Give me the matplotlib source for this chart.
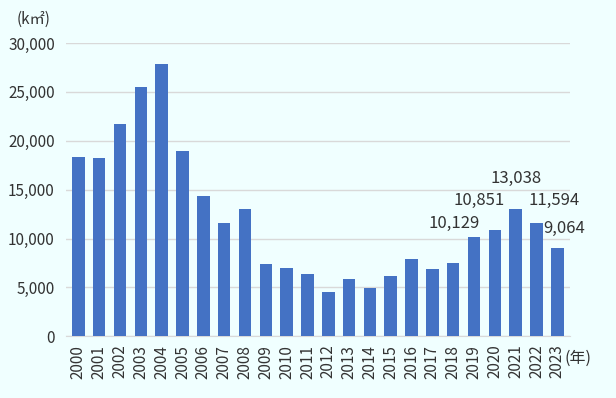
import matplotlib

matplotlib.use("Agg")
import matplotlib.pyplot as plt
import matplotlib.ticker as mticker

plt.rcParams["font.family"] = ["Noto Sans CJK JP", "DejaVu Sans"]

BG = "#F0FFFF"
BAR = "#4472C4"
GRID = "#D9D9D9"
TEXT = "#333333"

years = [str(y) for y in range(2000, 2024)]
area = [18300, 18200, 21700, 25500, 27800, 19000, 14300, 11600, 13000,
        7430, 7000, 6400, 4550, 5900, 4950, 6200, 7950, 6900, 7500,
        10129, 10851, 13038, 11594, 9064]
labelled = ["2019", "2020", "2021", "2022", "2023"]
label_offsets = [(-14, 4), (-11, 15), (0, 16), (13, 10), (5, 8)]

fig = plt.figure(figsize=(6.16, 3.98), dpi=100)
fig.patch.set_facecolor(BG)
ax = fig.add_axes([0.107, 0.155, 0.818, 0.737])
ax.set_facecolor(BG)

x = list(range(len(years)))
ax.bar(x, area, width=0.6, color=BAR, zorder=3)

for yr, (dx, dy) in zip(labelled, label_offsets):
    i = years.index(yr)
    ax.annotate(f"{area[i]:,}", xy=(i, area[i]), xytext=(dx, dy),
                textcoords="offset points", ha="center", va="bottom",
                fontsize=12, color=TEXT)

ax.set_xlim(-0.6, len(years) - 0.4)
ax.set_ylim(0, 30000)
ax.yaxis.set_major_locator(mticker.MultipleLocator(5000))
ax.yaxis.set_major_formatter(mticker.FuncFormatter(lambda v, _: f"{v:,.0f}"))
ax.yaxis.grid(True, color=GRID, linewidth=1.0, zorder=0)
ax.set_xticks(x)
ax.set_xticklabels(years, rotation=90)
for s in ["top", "right", "left"]:
    ax.spines[s].set_visible(False)
ax.spines["bottom"].set_color(GRID)
ax.tick_params(axis="both", length=0, labelsize=11, labelcolor=TEXT)
ax.tick_params(axis="y", pad=8)
ax.tick_params(axis="x", pad=6)

fig.text(0.055, 0.952, "(k㎡)", fontsize=11, color=TEXT, ha="center", va="center")
fig.text(0.916, 0.10, "(年)", fontsize=11.5, color=TEXT, ha="left", va="center")

fig.savefig("out.png", dpi=100, facecolor=BG)
